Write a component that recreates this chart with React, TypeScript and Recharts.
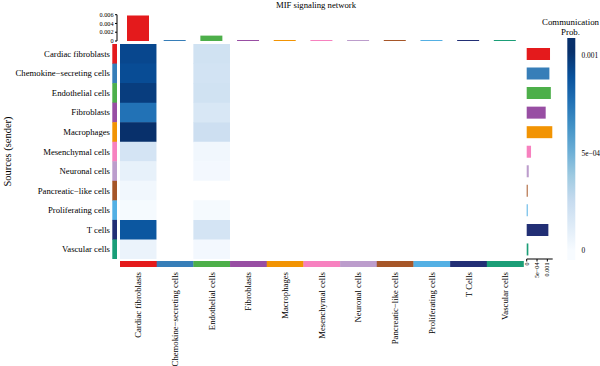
import { BarChart, Bar, XAxis, YAxis, Cell } from 'recharts'

const FONT = '"Liberation Serif", "Times New Roman", serif'

const senders = [
  'Cardiac fibroblasts',
  'Chemokine−secreting cells',
  'Endothelial cells',
  'Fibroblasts',
  'Macrophages',
  'Mesenchymal cells',
  'Neuronal cells',
  'Pancreatic−like cells',
  'Proliferating cells',
  'T cells',
  'Vascular cells',
]

const receivers = [
  'Cardiac fibroblasts',
  'Chemokine−secreting cells',
  'Endothelial cells',
  'Fibroblasts',
  'Macrophages',
  'Mesenchymal cells',
  'Neuronal cells',
  'Pancreatic−like cells',
  'Proliferating cells',
  'T Cells',
  'Vascular cells',
]

const groupColors = [
  '#E41A1C', '#377EB8', '#4DAF4A', '#984EA3', '#F29403', '#F781BF',
  '#BC9DCC', '#A65628', '#54B0E4', '#222F75', '#1B9E77',
]

// communication probability, rows = senders, columns = receivers
const commProb: number[][] = [
  [0.00093, 0, 0.0002, 0, 0, 0, 0, 0, 0, 0, 0],
  [0.00091, 0, 0.00019, 0, 0, 0, 0, 0, 0, 0, 0],
  [0.00097, 0, 0.0002, 0, 0, 0, 0, 0, 0, 0, 0],
  [0.00076, 0, 0.00016, 0, 0, 0, 0, 0, 0, 0, 0],
  [0.00102, 0, 0.00022, 0, 0, 0, 0, 0, 0, 0, 0],
  [0.00018, 0, 0.00003, 0, 0, 0, 0, 0, 0, 0, 0],
  [0.00008, 0, 0.00002, 0, 0, 0, 0, 0, 0, 0, 0],
  [0.00003, 0, 0, 0, 0, 0, 0, 0, 0, 0, 0],
  [0.00001, 0, 0.00001, 0, 0, 0, 0, 0, 0, 0, 0],
  [0.00087, 0, 0.00018, 0, 0, 0, 0, 0, 0, 0, 0],
  [0.00006, 0, 0.00002, 0, 0, 0, 0, 0, 0, 0, 0],
]

const topTicks = [0, 0.002, 0.004, 0.006]
const sideTicks = [0, 0.0005, 0.001]
const scaleTicks = [0, 0.0005, 0.001]
const tickText: Record<number, string> = {
  0: '0', 0.002: '0.002', 0.004: '0.004', 0.006: '0.006', 0.0005: '5e−04', 0.001: '0.001',
}

// RColorBrewer "Blues"
const blues = ['#F7FBFF', '#DEEBF7', '#C6DBEF', '#9ECAE1', '#6BAED6', '#4292C6', '#2171B5', '#08519C', '#08306B']

const maxProb = Math.max(...commProb.flat())
const scaleLo = -0.00005
const scaleHi = 0.00109

function hex(c: string) {
  return [1, 3, 5].map((i) => parseInt(c.slice(i, i + 2), 16))
}

function heatColor(v: number) {
  if (v === 0) return '#FFFFFF' // zero = NA, drawn white
  const t = Math.min(1, Math.max(0, v / maxProb)) * (blues.length - 1)
  const i = Math.min(blues.length - 2, Math.floor(t))
  const f = t - i
  const a = hex(blues[i])
  const b = hex(blues[i + 1])
  const rgb = a.map((x, k) => Math.round(x + (b[k] - x) * f))
  return `rgb(${rgb.join(',')})`
}

// heatmap body placement
const bodyLeft = 120
const bodyTop = 43.5
const bodyW = 403.5
const bodyH = 215

const heatRows = senders.map((name) => {
  const row: Record<string, string | number> = { name }
  receivers.forEach((_, j) => (row['c' + j] = 1))
  return row
})
const senderRows = senders.map((name, i) => ({
  name,
  one: 1,
  total: commProb[i].reduce((s, v) => s + v, 0),
}))
const receiverRows = receivers.map((name, j) => ({
  name,
  one: 1,
  total: commProb.reduce((s, r) => s + r[j], 0),
}))
const scaleRows = [{ name: 'scale', range: [scaleLo, scaleHi] }]

const noMargin = { top: 0, right: 0, bottom: 0, left: 0 }

function SenderTick(props: any) {
  const { x, y, payload } = props
  return (
    <text x={x} y={y} dy="0.35em" textAnchor="end" fontSize={8.7} fontFamily={FONT} fill="#000">
      {payload.value}
    </text>
  )
}

function ReceiverTick(props: any) {
  const { x, y, payload } = props
  return (
    <text x={x} y={y} dy="0.35em" transform={`rotate(-90, ${x}, ${y})`} textAnchor="end" fontSize={8.7} fontFamily={FONT} fill="#000">
      {payload.value}
    </text>
  )
}

function SideTick(props: any) {
  const { x, y, payload } = props
  return (
    <text x={x} y={y} dy="0.35em" transform={`rotate(-90, ${x}, ${y})`} textAnchor="end" fontSize={6.2} fontFamily={FONT} fill="#000">
      {tickText[payload.value]}
    </text>
  )
}

export default function App() {
  return (
    <div style={{ position: 'absolute', left: 0, top: 0, width: 600, height: 366, background: '#fff', fontFamily: FONT }}>
      {/* column totals on top */}
      <div style={{ position: 'absolute', left: 0, top: 0 }}>
        <BarChart width={bodyLeft + bodyW} height={46} data={receiverRows} margin={{ top: 14.7, right: 0, bottom: 5, left: 0 }} barSize={22}>
          <XAxis dataKey="name" hide padding={{ left: 3, right: 0 }} />
          <YAxis
            width={117}
            domain={[0, 0.006]}
            ticks={topTicks}
            interval={0}
            tickFormatter={(v: number) => tickText[v]}
            tickSize={2}
            tickMargin={1.5}
            tick={{ fontSize: 6.2, fill: '#000', fontFamily: FONT }}
            axisLine={{ stroke: '#000' }}
            tickLine={{ stroke: '#000' }}
          />
          <Bar dataKey="total" minPointSize={1} isAnimationActive={false}>
            {receiverRows.map((r, j) => (
              <Cell key={r.name} fill={groupColors[j]} />
            ))}
          </Bar>
          <text x={316} y={7.5} textAnchor="middle" fontSize={8.7} fontFamily={FONT} fill="#000">
            MIF signaling network
          </text>
        </BarChart>
      </div>

      {/* heatmap body */}
      <div style={{ position: 'absolute', left: bodyLeft, top: bodyTop }}>
        <BarChart layout="vertical" width={bodyW} height={bodyH} data={heatRows} margin={noMargin} barCategoryGap={0}>
          <XAxis type="number" hide domain={[0, receivers.length]} />
          <YAxis type="category" dataKey="name" hide />
          {receivers.map((r, j) => (
            <Bar key={r + j} dataKey={'c' + j} stackId="cells" isAnimationActive={false}>
              {senders.map((s, i) => (
                <Cell key={s} fill={heatColor(commProb[i][j])} />
              ))}
            </Bar>
          ))}
        </BarChart>
      </div>

      {/* sender colour strip and row names */}
      <div style={{ position: 'absolute', left: 0, top: bodyTop }}>
        <BarChart layout="vertical" width={117.3} height={bodyH} data={senderRows} margin={noMargin} barCategoryGap={0}>
          <XAxis type="number" hide domain={[0, 1]} />
          <YAxis
            type="category"
            dataKey="name"
            width={112.3}
            interval={0}
            tickLine={false}
            axisLine={false}
            tickSize={0}
            tickMargin={2.3}
            tick={SenderTick}
          />
          <Bar dataKey="one" isAnimationActive={false}>
            {senderRows.map((r, i) => (
              <Cell key={r.name} fill={groupColors[i]} />
            ))}
          </Bar>
          <text
            x={11.5}
            y={bodyH / 2}
            transform={`rotate(-90, 11.5, ${bodyH / 2})`}
            textAnchor="middle"
            fontSize={10.5}
            fontFamily={FONT}
            fill="#000"
          >
            Sources (sender)
          </text>
        </BarChart>
      </div>

      {/* receiver colour strip and column names */}
      <div style={{ position: 'absolute', left: bodyLeft, top: 261 }}>
        <BarChart width={bodyW} height={105} data={receiverRows} margin={noMargin} barCategoryGap={0}>
          <XAxis dataKey="name" height={99} interval={0} tickLine={false} axisLine={false} tickSize={0} tickMargin={5} tick={ReceiverTick} />
          <YAxis hide domain={[0, 1]} />
          <Bar dataKey="one" isAnimationActive={false}>
            {receiverRows.map((r, j) => (
              <Cell key={r.name} fill={groupColors[j]} />
            ))}
          </Bar>
        </BarChart>
      </div>

      {/* row totals on the right */}
      <div style={{ position: 'absolute', left: 520, top: bodyTop }}>
        <BarChart layout="vertical" width={40} height={bodyH + 22} data={senderRows} margin={{ top: 0, right: 7.3, bottom: 0, left: 6.7 }} barSize={12}>
          <XAxis
            type="number"
            domain={[0, 0.00126]}
            ticks={sideTicks}
            interval={0}
            height={22}
            tickSize={2.5}
            tickMargin={1}
            tick={SideTick}
            axisLine={{ stroke: '#000' }}
            tickLine={{ stroke: '#000' }}
          />
          <YAxis type="category" dataKey="name" hide />
          <Bar dataKey="total" minPointSize={1} isAnimationActive={false}>
            {senderRows.map((r, i) => (
              <Cell key={r.name} fill={groupColors[i]} />
            ))}
          </Bar>
        </BarChart>
      </div>

      {/* colour scale legend */}
      <div style={{ position: 'absolute', left: 540, top: 0 }}>
        <BarChart width={60} height={262} data={scaleRows} margin={{ top: 38, right: 0, bottom: 2, left: 27.3 }} barCategoryGap={0}>
          <defs>
            <linearGradient id="commProbScale" x1="0" y1="1" x2="0" y2="0">
              {blues.map((c, i) => (
                <stop key={c} offset={((i / (blues.length - 1)) * maxProb - scaleLo) / (scaleHi - scaleLo)} stopColor={c} />
              ))}
            </linearGradient>
          </defs>
          <XAxis dataKey="name" hide />
          <YAxis
            orientation="right"
            width={24.3}
            domain={[scaleLo, scaleHi]}
            ticks={scaleTicks}
            interval={0}
            tickFormatter={(v: number) => tickText[v]}
            tickLine={false}
            axisLine={false}
            tickSize={0}
            tickMargin={5.8}
            tick={{ fontSize: 7.4, fill: '#000', fontFamily: FONT, textAnchor: 'start' }}
          />
          <Bar dataKey="range" fill="url(#commProbScale)" isAnimationActive={false} />
          <text x={30.5} y={25} textAnchor="middle" fontSize={8.85} fontFamily={FONT} fill="#000">
            Communication
          </text>
          <text x={30.5} y={34.5} textAnchor="middle" fontSize={8.85} fontFamily={FONT} fill="#000">
            Prob.
          </text>
        </BarChart>
      </div>
    </div>
  )
}
